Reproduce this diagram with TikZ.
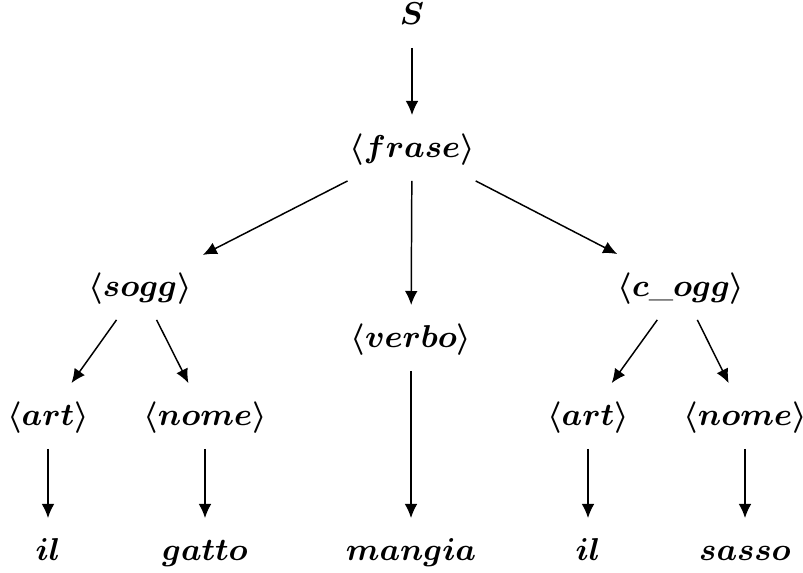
\documentclass[tikz,border=0pt]{standalone}
\usepackage{amsmath,amssymb}
\usepackage{bm}
\usepackage{tikz}
\usetikzlibrary{arrows.meta, positioning}
\tikzset{
  trnode/.style={inner xsep=3pt, inner ysep=4pt, font=\small, text height=1.8ex, text depth=0.6ex},
  trarrow/.style={draw, -{Latex[length=4pt,width=3.6pt]}, line width=0.42pt},
}

\begin{document}
\begin{tikzpicture}
\useasboundingbox (0,0) rectangle (8.03,-5.73);
\node[trnode] (s) at (4.12,-0.15) {$\bm{S}$};
\node[trnode] (fr) at (4.12,-1.48) {$\bm{\langle frase\rangle}$};
\node[trnode] (sg) at (1.40,-2.87) {$\bm{\langle sogg\rangle}$};
\node[trnode] (vb) at (4.11,-3.38) {$\bm{\langle verbo\rangle}$};
\node[trnode] (co) at (6.81,-2.87) {$\bm{\langle c\_ogg\rangle}$};
\node[trnode] (a1) at (0.48,-4.16) {$\bm{\langle art\rangle}$};
\node[trnode] (n1) at (2.05,-4.16) {$\bm{\langle nome\rangle}$};
\node[trnode] (a2) at (5.88,-4.16) {$\bm{\langle art\rangle}$};
\node[trnode] (n2) at (7.45,-4.16) {$\bm{\langle nome\rangle}$};
\node[trnode] (w1) at (0.48,-5.51) {$\bm{il}$};
\node[trnode] (w2) at (2.05,-5.51) {$\bm{gatto}$};
\node[trnode] (w3) at (4.11,-5.51) {$\bm{mangia}$};
\node[trnode] (w4) at (5.88,-5.51) {$\bm{il}$};
\node[trnode] (w5) at (7.45,-5.51) {$\bm{sasso}$};

\draw[trarrow] (s) -- (fr);
\draw[trarrow] (fr) -- (sg);
\draw[trarrow] (fr) -- (vb);
\draw[trarrow] (fr) -- (co);
\draw[trarrow] (sg) -- (a1);
\draw[trarrow] (sg) -- (n1);
\draw[trarrow] (co) -- (a2);
\draw[trarrow] (co) -- (n2);
\draw[trarrow] (a1) -- (w1);
\draw[trarrow] (n1) -- (w2);
\draw[trarrow] (vb) -- (w3);
\draw[trarrow] (a2) -- (w4);
\draw[trarrow] (n2) -- (w5);
\end{tikzpicture}
\end{document}
